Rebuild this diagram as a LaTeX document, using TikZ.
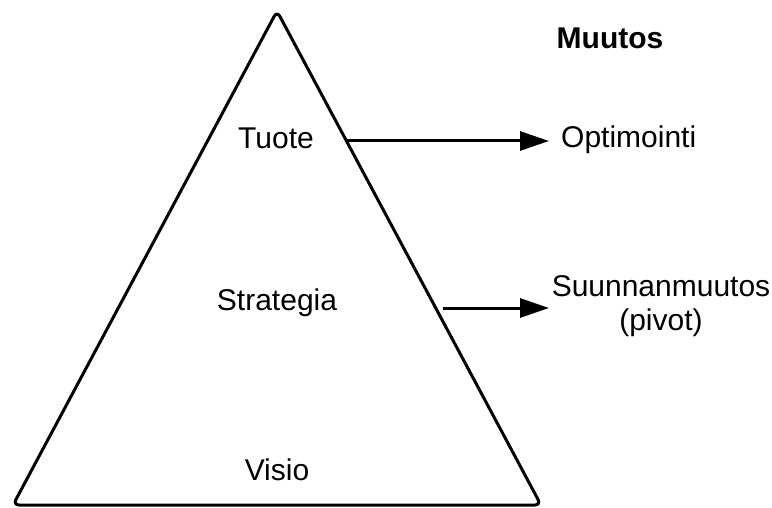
\documentclass[tikz,border=0pt]{standalone}
\usepackage{fontspec}
\setmainfont{Liberation Sans}
\usetikzlibrary{arrows.meta}
\begin{document}
\begin{tikzpicture}[x=1pt,y=-1pt,>={Triangle[length=29pt,width=19pt]},
	lbl/.style={font=\fontsize{30}{34}\selectfont,inner sep=0pt},
	thickline/.style={line width=3pt}]
		\useasboundingbox (0,0) rectangle (772,508);
		\draw[thickline,rounded corners=6pt,line join=round] (277,11) -- (541,505) -- (13,505) -- cycle;
		\node[lbl] (tuote) at (276,138) {Tuote};
		\node[lbl] (strategia) at (277,303) {Strategia};
		\node[lbl] (visio) at (277,470) {Visio};
		\node[lbl,font=\fontsize{30}{34}\selectfont\bfseries] (muutos) at (610,38) {Muutos};
		\node[lbl,anchor=west] (optim) at (561,140) {Optimointi};
		\node[lbl,align=center] (suunta) at (661,306) {Suunnanmuutos\\(pivot)};
		\coordinate (a1) at (347,141);
		\coordinate (a2) at (443,308);
		\draw[->,thickline] (a1) -- (549,141);
		\draw[->,thickline] (a2) -- (549,308);
	\end{tikzpicture}
\end{document}
